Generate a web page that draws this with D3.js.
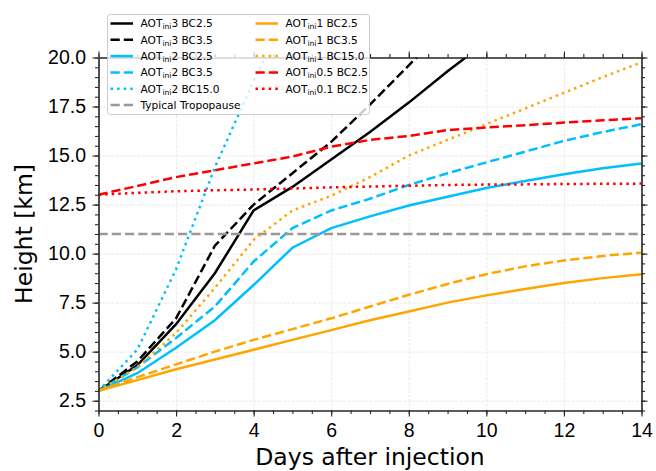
<!DOCTYPE html>
<html>
<head>
<meta charset="utf-8">
<script src="https://cdn.jsdelivr.net/npm/d3@7"></script>
<style>
  body { margin: 0; background: #fff; }
  svg { font-family: "DejaVu Sans", sans-serif; }
  .grid line { stroke: #e4e4e4; stroke-width: 0.8; stroke-dasharray: 3,1.3; }
  .grid path { display: none; }
  .axis path, .axis line { stroke: #262626; stroke-width: 1.1; }
  .axis text { fill: #000; font-size: 19.5px; }
  .line { fill: none; stroke-width: 2.5; }
</style>
</head>
<body>
<svg id="heightChart"></svg>
<script>
// days after injection (x)
let days = [0, 1, 2, 3, 4, 5, 6, 7, 8, 9, 10, 11, 12, 13, 14]
let xTicks = [0, 2, 4, 6, 8, 10, 12, 14]
let yTicks = [2.5, 5.0, 7.5, 10.0, 12.5, 15.0, 17.5, 20.0]

// plume top height [km], one value per day (lines leaving the top are cut)
let aot3bc25 = [3.0, 4.3, 6.4, 9.0, 12.2, 13.4, 14.8, 16.2, 17.7, 19.3, 20.8]
let aot3bc35 = [3.0, 4.5, 6.7, 10.4, 12.5, 14.1, 15.7, 17.6, 19.6, 21.6]
let aot2bc25 = [3.0, 3.9, 5.2, 6.6, 8.4, 10.3, 11.3, 11.9, 12.45, 12.9, 13.35, 13.7, 14.05, 14.35, 14.6]
let aot2bc35 = [3.0, 4.2, 5.7, 7.3, 9.6, 11.3, 12.2, 12.8, 13.5, 14.1, 14.65, 15.2, 15.75, 16.2, 16.6]
let aot2bc150 = [3.0, 5.1, 9.2, 14.4, 18.8, 23.0]
let aot1bc25 = [3.0, 3.55, 4.1, 4.6, 5.1, 5.6, 6.1, 6.6, 7.05, 7.5, 7.87, 8.2, 8.5, 8.75, 8.95]
let aot1bc35 = [3.0, 3.7, 4.35, 5.0, 5.6, 6.15, 6.7, 7.3, 7.9, 8.45, 8.95, 9.35, 9.65, 9.88, 10.05]
let aot1bc150 = [3.0, 4.2, 5.95, 8.25, 10.7, 12.2, 12.95, 13.9, 15.0, 15.8, 16.6, 17.4, 18.2, 19.0, 19.75]
let aot05bc25 = [13.0, 13.45, 13.9, 14.25, 14.6, 14.95, 15.45, 15.8, 16.0, 16.3, 16.43, 16.55, 16.68, 16.8, 16.9]
let aot01bc25 = [13.0, 13.1, 13.18, 13.23, 13.27, 13.32, 13.38, 13.42, 13.46, 13.5, 13.52, 13.53, 13.55, 13.56, 13.57]
let tropopause = 11.0

let labels = ['AOTini3 BC2.5', 'AOTini3 BC3.5', 'AOTini2 BC2.5', 'AOTini2 BC3.5', 'AOTini2 BC15.0',
    'Typical Tropopause', 'AOTini1 BC2.5', 'AOTini1 BC3.5', 'AOTini1 BC15.0', 'AOTini0.5 BC2.5', 'AOTini0.1 BC2.5']

//styles, same order as labels
let colors = ['#000000', '#000000', '#00bfff', '#00bfff', '#00bfff', '#999999',
    '#ffa500', '#ffa500', '#ffa500', '#ff0000', '#ff0000']
let dashes = ['none', '9.25,4', 'none', '9.25,4', '2.5,4.1', '9.25,4',
    'none', '9.25,4', '2.5,4.1', '9.25,4', '2.5,4.1']

function getConfig(){
    let width = 656;
    let height = 471;
    let margin = {
        top: 57.5,
        bottom: 60.5,
        left: 98.5,
        right: 14.5
    }
    let bodyHeight = height - margin.top - margin.bottom
    let bodyWidth = width - margin.left - margin.right

    let container = d3.select('#heightChart')
        .attr('width', width)
        .attr('height', height)

    return { width, height, margin, bodyHeight, bodyWidth, container }
}

function getScales(config){
    let xScale = d3.scaleLinear()
        .domain([0, 14])
        .range([0, config.bodyWidth])
    let yScale = d3.scaleLinear()
        .domain([2, 20])
        .range([config.bodyHeight, 0])
    return { xScale, yScale }
}

function drawGrid(scales, config){
    let { xScale, yScale } = scales;
    let { container, margin, bodyWidth, bodyHeight } = config;
    container.append('g')
        .attr('class', 'grid')
        .attr('transform', `translate(${margin.left},${margin.top + bodyHeight})`)
        .call(d3.axisBottom(xScale).tickValues(xTicks).tickSize(-bodyHeight).tickFormat(''))
    container.append('g')
        .attr('class', 'grid')
        .attr('transform', `translate(${margin.left},${margin.top})`)
        .call(d3.axisLeft(yScale).tickValues(yTicks).tickSize(-bodyWidth).tickFormat(''))
}

function drawAxes(scales, config){
    let { xScale, yScale } = scales;
    let { container, margin, bodyWidth, bodyHeight } = config;
    let xMinor = d3.range(0, 14.01, 0.5)
    let yMinor = d3.range(2, 20.01, 0.5)

    let sides = [
        { axis: d3.axisBottom, scale: xScale, major: xTicks, minor: xMinor, tx: 0, ty: bodyHeight, fmt: d3.format('d') },
        { axis: d3.axisTop, scale: xScale, major: xTicks, minor: xMinor, tx: 0, ty: 0, fmt: '' },
        { axis: d3.axisLeft, scale: yScale, major: yTicks, minor: yMinor, tx: 0, ty: 0, fmt: d3.format('.1f') },
        { axis: d3.axisRight, scale: yScale, major: yTicks, minor: yMinor, tx: bodyWidth, ty: 0, fmt: '' }
    ]
    sides.forEach(s => {
        container.append('g')
            .attr('class', 'axis')
            .attr('transform', `translate(${margin.left + s.tx},${margin.top + s.ty})`)
            .call(s.axis(s.scale).tickValues(s.minor).tickSize(3.5).tickSizeOuter(0).tickFormat(''))
        container.append('g')
            .attr('class', 'axis')
            .attr('transform', `translate(${margin.left + s.tx},${margin.top + s.ty})`)
            .call(s.axis(s.scale).tickValues(s.major).tickSize(6).tickSizeOuter(0).tickPadding(6.5).tickFormat(s.fmt))
    })

    container.append('text')
        .attr('x', margin.left + bodyWidth / 2)
        .attr('y', 465)
        .attr('text-anchor', 'middle')
        .style('font-size', '23.5px')
        .text('Days after injection')
    container.append('text')
        .attr('transform', `translate(31.5,${margin.top + bodyHeight / 2}) rotate(-90)`)
        .attr('text-anchor', 'middle')
        .style('font-size', '23.5px')
        .text('Height [km]')
}

function drawLines(scales, config){
    let { xScale, yScale } = scales;
    let { container, margin, bodyWidth, bodyHeight } = config;

    container.append('clipPath')
        .attr('id', 'bodyClip')
        .append('rect')
        .attr('width', bodyWidth)
        .attr('height', bodyHeight)

    let body = container.append('g')
        .attr('transform', `translate(${margin.left},${margin.top})`)
        .attr('clip-path', 'url(#bodyClip)')

    let lineG = d3.line()
        .x(d => xScale(d.day))
        .y(d => yScale(d.h))

    let series = [aot3bc25, aot3bc35, aot2bc25, aot2bc35, aot2bc150,
        days.map(() => tropopause), aot1bc25, aot1bc35, aot1bc150, aot05bc25, aot01bc25]

    series.forEach((vals, i) => {
        let data = vals.map((h, j) => ({ day: days[j], h: h }))
        body.append('path')
            .datum(data)
            .attr('class', 'line')
            .attr('d', lineG)
            .style('stroke', colors[i])
            .style('stroke-dasharray', dashes[i])
    })
}

function drawLegend(config){
    let { container } = config;
    let legend = container.append('g')

    legend.append('rect')
        .attr('x', 107.5)
        .attr('y', 14.5)
        .attr('width', 262)
        .attr('height', 100)
        .attr('rx', 3)
        .style('fill', 'rgba(255,255,255,0.8)')
        .style('stroke', '#cccccc')
        .style('stroke-width', 1)

    labels.forEach((lab, i) => {
        let col = i < 6 ? 0 : 1
        let row = i < 6 ? i : i - 6
        let x0 = col === 0 ? 110.5 : 255.5
        let y0 = 23.5 + row * 16.3
        let item = legend.append('g')
        item.append('line')
            .attr('x1', x0)
            .attr('x2', x0 + 22.5)
            .attr('y1', y0)
            .attr('y2', y0)
            .style('stroke', colors[i])
            .style('stroke-width', 2.5)
            .style('stroke-dasharray', dashes[i])
        let t = item.append('text')
            .attr('x', x0 + 30)
            .attr('y', y0 + 3.8)
            .style('font-size', '10.6px')
            .style('fill', '#000')
        if(lab.startsWith('AOTini')){
            t.append('tspan').text('AOT')
            t.append('tspan').attr('dy', 2).style('font-size', '7.6px').text('ini')
            t.append('tspan').attr('dy', -2).text(lab.slice(6))
        } else {
            t.text(lab)
        }
    })
}

function drawChart(){
    let config = getConfig();
    let scales = getScales(config);
    drawGrid(scales, config);
    drawLines(scales, config);
    drawAxes(scales, config);
    drawLegend(config);
}
drawChart()
</script>
</body>
</html>
